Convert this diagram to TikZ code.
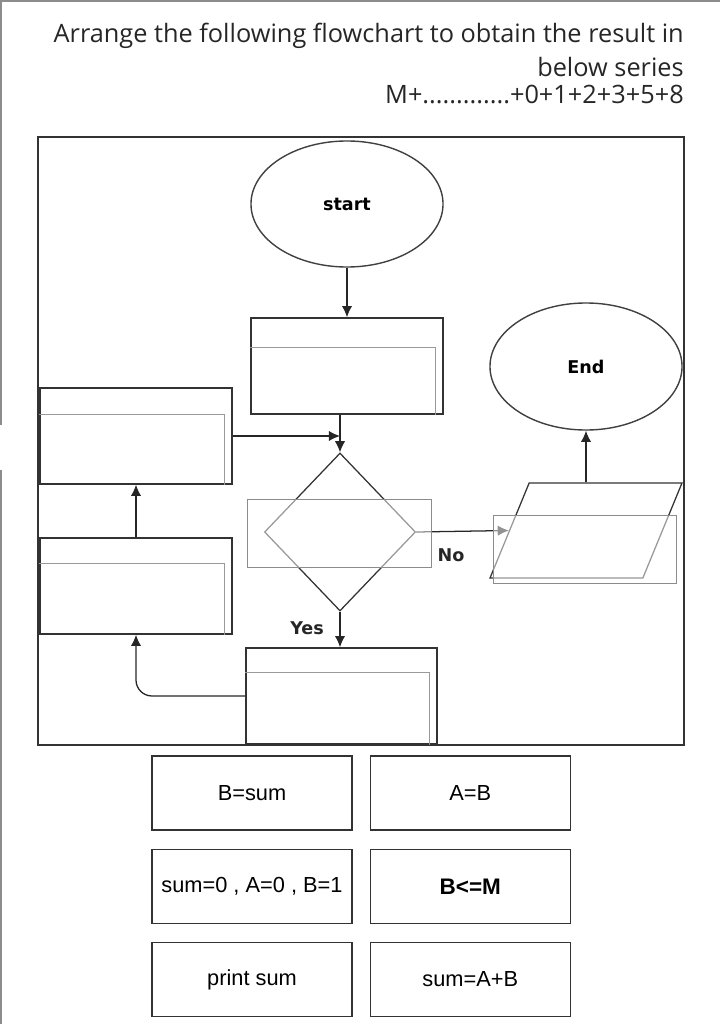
\documentclass[tikz,border=0pt]{standalone}
\usepackage{fontspec}
\setmainfont{Liberation Sans}
\newfontfamily\titlefont{Open Sans}
\newfontfamily\chartfont{DejaVu Sans}
\usetikzlibrary{arrows.meta,shapes.geometric}
\usetikzlibrary{positioning}
\tikzstyle{frame} = [draw=black!80, line width=1.1pt]
\tikzstyle{slot} = [rectangle, minimum width=4.8cm, minimum height=2.4cm, draw=black!80, line width=1.1pt]
\tikzstyle{term} = [ellipse, minimum width=4.8cm, minimum height=3.15cm, draw=black!75, line width=1pt, font=\chartfont\bfseries\fontsize{12.5}{15}\selectfont]
\tikzstyle{liner} = [draw=black!40, line width=0.6pt]
\tikzstyle{veil} = [draw=black!45, line width=0.6pt, fill=white, fill opacity=0.5]
\tikzstyle{flow} = [draw=black!85, line width=0.9pt, -{Latex[length=0.28cm,width=0.26cm]}]
\tikzstyle{lbl} = [font=\chartfont\bfseries\fontsize{12.5}{15}\selectfont, text=black!85]
\tikzstyle{quest} = [anchor=base east, inner sep=0, font=\titlefont\fontsize{18}{22}\selectfont, text=black!85]
\tikzstyle{choice} = [rectangle, minimum width=5cm, minimum height=1.85cm, draw=black!80, line width=0.9pt, font=\fontsize{15.5}{18}\selectfont]

\begin{document}
\begin{tikzpicture}[x=0.025cm, y=-0.025cm, node distance=0.45cm and 0.425cm]
\useasboundingbox (0,0) rectangle (720,1024);
% screen edge
\draw[black!45, line width=0.8pt] (1,1024) -- (1,470) (1,425) -- (1,1) -- (720,1);

% question
\node (q1) [quest] at (684,43) {Arrange the following flowchart to obtain the result in};
\node (q2) [quest] at (684,77) {below series};
\node (q3) [quest] at (684,104) {M+.............+0+1+2+3+5+8};

% chart
\draw[frame] (38,137) rectangle (684,745);

\node (start) [term] at (347,204) {start};
\node (in1) [slot] at (347,366) {};
\node (dec) [diamond, draw=black!80, line width=0.9pt, minimum width=3.775cm, minimum height=3.95cm, inner sep=0] at (340,532) {};
\node (out) [trapezium, trapezium left angle=71, trapezium right angle=109, trapezium stretches=true, minimum width=4.8cm, minimum height=2.375cm, draw=black!80, line width=0.9pt] at (586,530.5) {};
\node (end) [term, minimum height=3.175cm] at (586,366.5) {End};
\node (in2) [slot] at (136,436) {};
\node (in3) [slot] at (136,586) {};
\node (in4) [slot, minimum width=4.775cm] at (341.5,696) {};

\draw[flow] (start) -- (in1);
\draw[flow] (in1.south -| dec.north) -- (dec.north);
\draw[flow] (in2.east) -- (in2.east -| dec.north);
\draw[flow] (dec.east) -- (out.west);
\draw[flow] (out.north) -- (end.south);
\draw[flow] (dec.south) -- (dec.south |- in4.north);
\draw[flow] (in3) -- (in2);
\draw[flow, rounded corners=0.4cm] (in4.west) -| (in3.south);

\node (no) [lbl] at (451,555) {No};
\node (yes) [lbl] at (307,628) {Yes};

% faded inner frames
\draw[liner] ([yshift=-0.75cm]in1.north west) -| ([xshift=-0.2cm]in1.south east);
\draw[liner] ([yshift=-0.675cm]in2.north west) -| ([xshift=-0.2cm]in2.south east);
\draw[liner] ([yshift=-0.65cm]in3.north west) -| ([xshift=-0.2cm]in3.south east);
\draw[liner] ([yshift=-0.625cm]in4.north west) -| ([xshift=-0.2cm]in4.south east);
\draw[veil] (247,499) rectangle (431,567);
\draw[veil] (493,515) rectangle (676,583);

% answers
\node (op1) [choice] at (252,793) {B=sum};
\node (op2) [choice, right=of op1] {A=B};
\node (op3) [choice, below=of op1] {sum=0 , A=0 , B=1};
\node (op4) [choice, below=of op2, font=\bfseries\fontsize{16}{19}\selectfont] {B<=M\hspace{0.75cm}};
\node (op5) [choice, below=of op3] {print sum};
\node (op6) [choice, below=of op4] {sum=A+B};
\end{tikzpicture}
\end{document}
